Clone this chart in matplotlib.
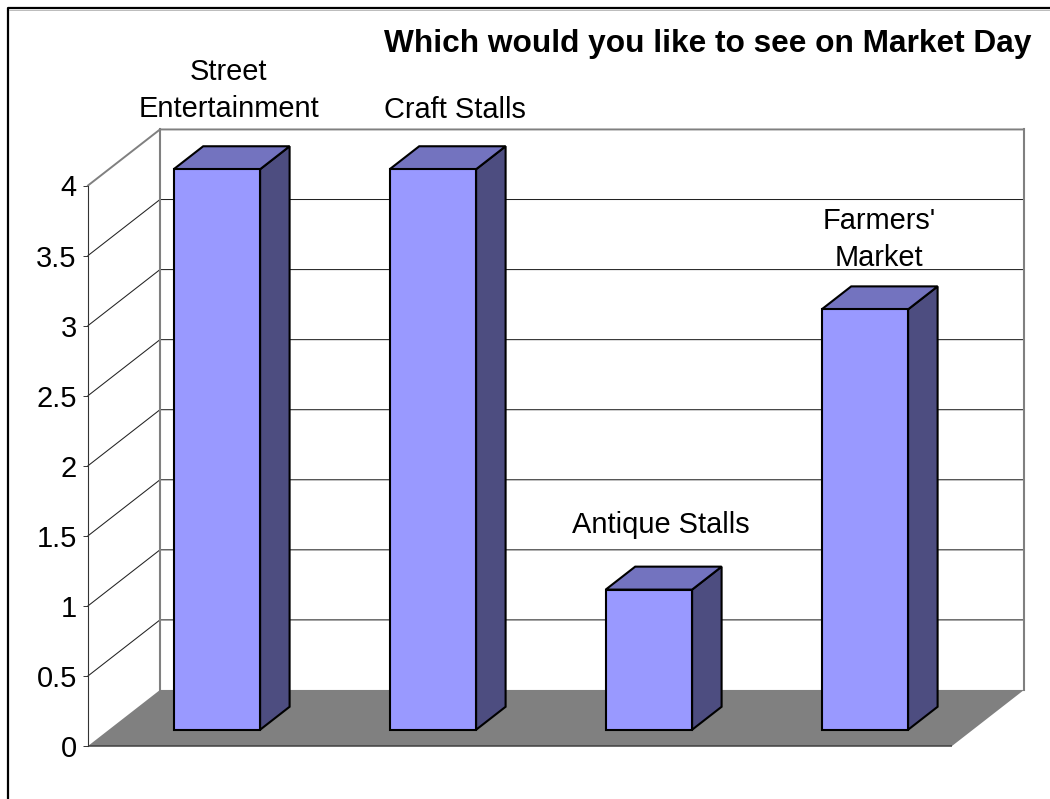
import matplotlib
matplotlib.use("Agg")
import matplotlib.pyplot as plt
from matplotlib.lines import Line2D
from matplotlib.patches import Polygon

# Data
categories = ["Street\nEntertainment", "Craft Stalls", "Antique Stalls", "Farmers'\nMarket"]
values = [4, 4, 1, 3]
y_ticks = [0, 0.5, 1, 1.5, 2, 2.5, 3, 3.5, 4]
y_tick_labels = ["0", "0.5", "1", "1.5", "2", "2.5", "3", "3.5", "4"]
title = "Which would you like to see on Market Day"

# Style / layout
W, H = 1050, 799
plt.rcParams["font.family"] = ["Liberation Sans", "DejaVu Sans"]
FS = 20.9
TITLE_FS = 22.8
FRONT, TOP, SIDE = "#9999FF", "#7373BF", "#4D4D80"
GREY = "#808080"
DX, DY = 1 / 3, 0.4           # wall depth in axis units
BAR_W = 0.4
D0, D1 = 0.29, 0.70           # bar front / back depth, share of the wall depth
LABEL_OFFSETS = [(12, 88), (22, 87), (12, 93), (14, 79)]  # px from bar front centre/top

fig = plt.figure(figsize=(W / 100, H / 100), dpi=100, facecolor="white")
ax = fig.add_axes([88 / W, 1 - 746 / H, (952 - 88) / W, (746 - 185.5) / H])
ax.set_xlim(0, 4)
ax.set_ylim(0, 4)
ax.patch.set_visible(False)
for s in ["top", "right", "bottom"]:
    ax.spines[s].set_visible(False)
ax.spines["left"].set_color("#333333")
ax.spines["left"].set_linewidth(0.8)
ax.spines["left"].set_zorder(4)
ax.set_xticks([])
ax.set_yticks(y_ticks, y_tick_labels, fontsize=FS)
ax.tick_params(axis="y", length=3.6, width=0.7, color="#333333", pad=4.5)


def proj(x, v, d):
    return x + d * DX, v + d * DY


# Floor
ax.add_patch(Polygon([proj(0, 0, 0), proj(4, 0, 0), proj(4, 0, 1), proj(0, 0, 1)],
                     closed=True, fc=GREY, ec="none", clip_on=False, zorder=1))
ax.plot([0, 4], [0, 0], color="#404040", lw=1.1, clip_on=False, zorder=2, solid_capstyle="butt")

# Grid on side and back walls
for t in y_ticks:
    xs, ys = zip(proj(0, t, 0), proj(0, t, 1), proj(4, t, 1))
    if t == 4:
        ax.plot(xs, ys, color=GREY, lw=1.4, clip_on=False, zorder=2)
    elif t > 0:
        ax.plot(xs, ys, color="#222222", lw=0.75, clip_on=False, zorder=2)

# Back wall verticals
for xv in (0, 4):
    xs, ys = zip(proj(xv, 0, 1), proj(xv, 4, 1))
    ax.plot(xs, ys, color=GREY, lw=1.5, clip_on=False, zorder=2, solid_capstyle="projecting")

# Bars
for i, (label, v) in enumerate(zip(categories, values)):
    x0, x1 = i + 0.5 - BAR_W / 2, i + 0.5 + BAR_W / 2
    front = [proj(x0, 0, D0), proj(x1, 0, D0), proj(x1, v, D0), proj(x0, v, D0)]
    top = [proj(x0, v, D0), proj(x1, v, D0), proj(x1, v, D1), proj(x0, v, D1)]
    side = [proj(x1, 0, D0), proj(x1, 0, D1), proj(x1, v, D1), proj(x1, v, D0)]
    for pts, fc in ((side, SIDE), (top, TOP), (front, FRONT)):
        ax.add_patch(Polygon(pts, closed=True, fc=fc, ec="black", lw=1.5,
                             joinstyle="miter", clip_on=False, zorder=3))
    ox, oy = LABEL_OFFSETS[i]
    ax.annotate(label, xy=proj(i + 0.5, v, D0), xytext=(ox * 0.72, (oy - 42) * 0.72),
                textcoords="offset points", ha="center", va="bottom", fontsize=FS,
                linespacing=1.42, color="black", annotation_clip=False, zorder=5)

# Title
fig.text(1032 / W, 1 - 44 / H, title, fontsize=TITLE_FS, fontweight="bold", ha="right", va="center")

# Outer frame
fig.add_artist(Line2D([7.5 / W, 7.5 / W, 1], [0, 1 - 8 / H, 1 - 8 / H], color="black", lw=1.6))
fig.add_artist(Line2D([9 / W, 1], [1 - 9.5 / H, 1 - 9.5 / H], color="#BBBBBB", lw=0.7))

fig.savefig("out.png", dpi=100, facecolor="white")
